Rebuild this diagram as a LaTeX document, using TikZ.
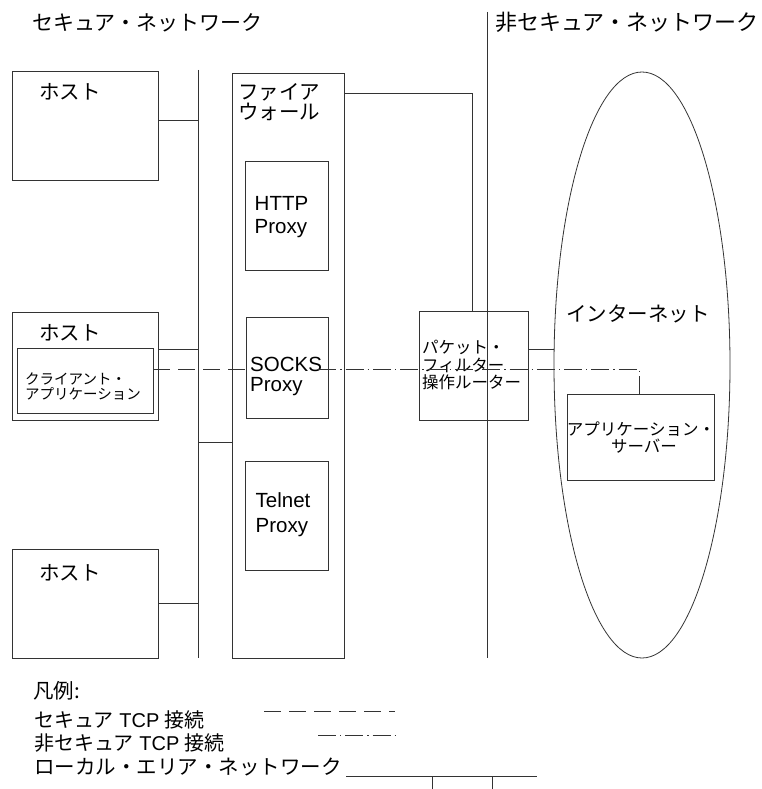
\documentclass[tikz,border=0pt]{standalone}
\usepackage{fontspec}
\setmainfont{Liberation Sans}
\newfontfamily\jp{Noto Sans CJK JP}
\usetikzlibrary{shapes.geometric}
\begin{document}
\begin{tikzpicture}[x=1pt,y=-1pt,
  box/.style={draw=black!80, line width=0.8pt, inner sep=0pt, rectangle},
  conn/.style={draw=black!80, line width=0.8pt},
  secure/.style={conn, dash pattern=on 17pt off 8pt},
  insecure/.style={conn, dash pattern=on 18pt off 4pt on 1.3pt off 4pt},
  jpbig/.style={anchor=base west, inner sep=0pt, font=\jp\fontsize{20.5}{20.5}\selectfont},
  jptitle/.style={anchor=base west, inner sep=0pt, font=\jp\fontsize{21}{21}\selectfont},
  jpmid/.style={anchor=base west, inner sep=0pt, font=\jp\fontsize{16.5}{16.5}\selectfont},
  jpsmall/.style={anchor=base west, inner sep=0pt, font=\jp\fontsize{14.5}{14.5}\selectfont},
  lat/.style={anchor=base west, inner sep=0pt, font=\fontsize{20.5}{20.5}\selectfont},
  legend/.style={anchor=base west, inner sep=0pt, font=\fontsize{20}{20}\selectfont},
]
\useasboundingbox (0,0) rectangle (761,789);

% titles
\node[jptitle] (t1) at (32,31) {セキュア・ネットワーク};
\node[jptitle, font=\jp\fontsize{22}{22}\selectfont] (t2) at (495,31) {非セキュア・ネットワーク};

% boxes
\node[box, minimum width=146pt, minimum height=109pt] (host1) at (85,125.5) {};
\node[box, minimum width=146pt, minimum height=108pt] (host2) at (85,366) {};
\node[box, minimum width=136pt, minimum height=65pt] (client) at (85,380.5) {};
\node[box, minimum width=146pt, minimum height=109pt] (host3) at (85,603.5) {};
\node[box, minimum width=112pt, minimum height=585pt] (fw) at (288,365.5) {};
\node[box, minimum width=83pt, minimum height=109pt] (http) at (286.5,215.5) {};
\node[box, minimum width=82pt, minimum height=101pt] (socks) at (287,367.5) {};
\node[box, minimum width=83pt, minimum height=109pt] (telnet) at (286.5,515.5) {};
\node[box, minimum width=109pt, minimum height=109pt] (router) at (473.5,365.5) {};
\node[draw=black!80, line width=0.8pt, ellipse, inner sep=0pt, minimum width=176pt, minimum height=586pt] (inet) at (642,365) {};
\node[box, minimum width=147pt, minimum height=86pt] (app) at (640.5,437) {};

% texts
\node[jpbig] (h1t) at (39,100) {ホスト};
\node[jpbig] (h2t) at (39,340) {ホスト};
\node[jpbig] (h3t) at (39,580) {ホスト};
\node[jpsmall] (ct1) at (25,384) {クライアント・};
\node[jpsmall] (ct2) at (25,399) {アプリケーション};
\node[jpbig] (fwt1) at (238,100) {ファイア};
\node[jpbig] (fwt2) at (238,120) {ウォール};
\node[lat] (ht1) at (254.5,210) {HTTP};
\node[lat] (ht2) at (254.5,233) {Proxy};
\node[lat] (st1) at (250,371) {SOCKS};
\node[lat] (st2) at (250,391) {Proxy};
\node[lat] (tt1) at (255.5,507) {Telnet};
\node[lat] (tt2) at (255.5,532) {Proxy};
\node[jpmid] (rt1) at (422,353) {パケット・};
\node[jpmid] (rt2) at (422,371) {フィルター};
\node[jpmid] (rt3) at (422,388) {操作ルーター};
\node[jpbig] (it) at (566,321) {インターネット};
\node[jpmid, anchor=base] (at1) at (641,435) {アプリケーション・};
\node[jpmid, anchor=base] (at2) at (644,452) {サーバー};

% network lines
\coordinate (lant) at (198,70);
\coordinate (lanb) at (198,658);
\draw[conn] (lant) -- (lanb);
\coordinate (divt) at (487,12);
\coordinate (divb) at (487,658);
\draw[conn] (divt) -- (divb);

\coordinate (h1c) at ([yshift=5.5pt]host1.east);
\draw[conn] (h1c) -- (h1c -| lant);
\coordinate (h2c) at ([yshift=17pt]host2.east);
\draw[conn] (h2c) -- (h2c -| lant);
\draw[conn] (host3.east) -- (host3.east -| lant);
\coordinate (fwl) at ([yshift=-76.5pt]fw.west);
\draw[conn] (fwl -| lant) -- (fwl);

\coordinate (fwr) at ([yshift=-21pt]fw.north east);
\draw[conn] (fwr) -| ([xshift=-1.5pt]router.north);
\coordinate (ri) at ([yshift=16.5pt]router.east);
\draw[conn] (ri) -- (ri -| inet.west);

% TCP connections
\coordinate (s1) at ([yshift=11.5pt]client.east);
\path (s1 -| socks.west) coordinate (s2);
\draw[secure] (s1) -- ([xshift=7pt]s2);
\path (s1 -| socks.east) coordinate (d0);
\draw[insecure] ([xshift=-10pt]d0) -| ([xshift=-1.5pt]app.north);

% legend
\node[jpbig] (lg) at (33,698) {凡例:};
\node[legend] (lg1) at (34,727) {{\jp セキュア} TCP {\jp 接続}};
\node[legend] (lg2) at (34,750) {{\jp 非セキュア} TCP {\jp 接続}};
\node[jpbig] (lg3) at (34,774) {ローカル・エリア・ネットワーク};
\coordinate (l1a) at (264,711); \coordinate (l1b) at (395,711);
\draw[secure] (l1a) -- (l1b);
\coordinate (l2a) at (318,735); \coordinate (l2b) at (395,735);
\draw[insecure] (l2a) -- (l2b);
\coordinate (l3a) at (346,776); \coordinate (l3b) at (537,776);
\draw[conn] (l3a) -- (l3b);
\coordinate (k1) at (432,776); \coordinate (k2) at (492,776);
\draw[conn] (k1) -- (k1 |- 0,789);
\draw[conn] (k2) -- (k2 |- 0,789);
\end{tikzpicture}
\end{document}
